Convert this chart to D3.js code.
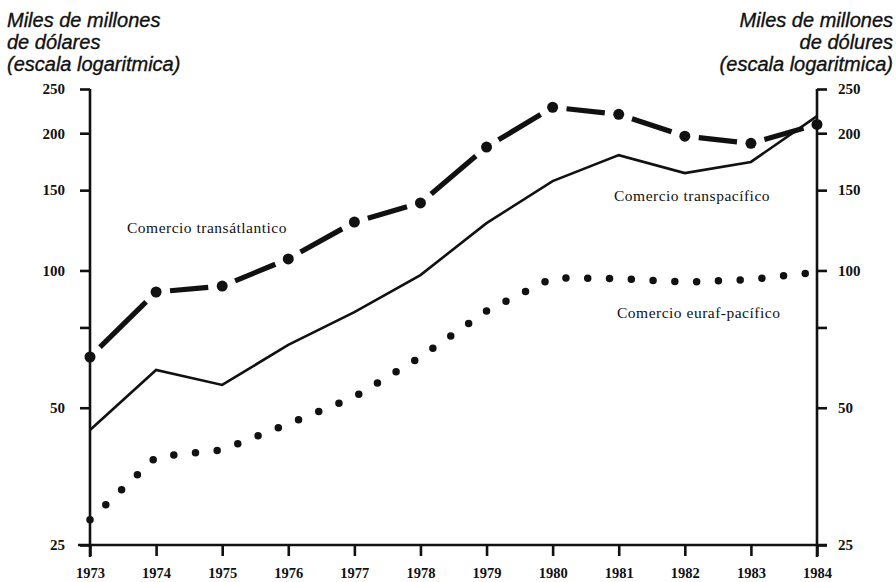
<!DOCTYPE html>
<html lang="es">
<head>
  <meta charset="UTF-8">
  <script src="https://d3js.org/d3.v7.min.js"></script>
  <title>Comercio</title>
  <style>
    body { margin: 0; padding: 0; background: #fff; }
    .axis text { font-family: "Liberation Serif", serif; font-weight: bold; font-size: 15px; fill: #111; }
    .axis line, .axis path { stroke: #111; stroke-width: 2.6; }
    .xax text { font-size: 14.5px; }
    .ttl { font-family: "Liberation Sans", sans-serif; font-style: italic; font-size: 20px; fill: #111; stroke: #111; stroke-width: 0.35; }
    .lbl { font-family: "Liberation Serif", serif; font-size: 15.5px; letter-spacing: 0.5px; fill: #111; }
  </style>
</head>
<body>
<div id="chart"></div>
<script>
  // datos (miles de millones de dolares)
  let years = [1973, 1974, 1975, 1976, 1977, 1978, 1979, 1980, 1981, 1982, 1983, 1984]
  let transatlantico = [64.6, 89.7, 92.4, 106, 127.7, 140.6, 186.5, 228, 220, 197, 190, 209]
  let transpacifico = [44.7, 60.5, 56.1, 68.7, 81, 97.7, 127, 157, 179, 163.5, 173, 218]
  let eurafPacifico = [28.4, 39.0, 40.4, 46.1, 52.8, 64.6, 81.5, 96.3, 96, 94.3, 95.5, 99.2]
  let yTicks = [25, 50, 75, 100, 150, 200, 250]
  let yLabeled = [25, 50, 100, 150, 200, 250]
  let titleLines = ["Miles de millones", "de dólares", "(escala logaritmica)"]
  let titleLinesR = ["Miles de millones", "de dólures", "(escala logaritmica)"]

  let width = 896, height = 582
  let svg = d3.select("#chart").append("svg")
    .attr("width", width).attr("height", height)
  svg.append("rect").attr("width", width).attr("height", height).attr("fill", "#fff")

  let x = d3.scaleLinear().domain([1973, 1984]).range([90, 817])
  let y = d3.scaleLog().domain([25, 250]).range([545, 89])

  let fmt = d => yLabeled.includes(d) ? d : ""

  // eje izquierdo
  let gl = svg.append("g").attr("class", "axis")
    .attr("transform", `translate(${x(1973)},0)`)
    .call(d3.axisLeft(y).tickValues(yTicks).tickFormat(fmt).tickSize(10).tickSizeOuter(0).tickPadding(15))
  gl.select(".domain").attr("d", `M0,${y(250)}V${y(25) + 12}`)

  // eje derecho
  let gr = svg.append("g").attr("class", "axis")
    .attr("transform", `translate(${x(1984)},0)`)
    .call(d3.axisRight(y).tickValues(yTicks).tickFormat(fmt).tickSize(10).tickSizeOuter(0).tickPadding(11))
  gr.select(".domain").attr("d", `M0,${y(250)}V${y(25) + 12}`)

  // eje inferior
  let gb = svg.append("g").attr("class", "axis xax")
    .attr("transform", `translate(0,${y(25)})`)
    .call(d3.axisBottom(x).tickValues(years).tickFormat(d3.format("d")).tickSize(11).tickSizeOuter(0).tickPadding(12))
  gb.select(".domain").attr("d", `M${x(1973) - 12},0H${x(1984) + 10}`)

  // comercio transpacifico: linea continua
  let line = d3.line().x((d, i) => x(years[i])).y(d => y(d))
  svg.append("path").datum(transpacifico)
    .attr("d", line).attr("fill", "none")
    .attr("stroke", "#111").attr("stroke-width", 2.6)

  // comercio euraf-pacifico: puntos
  svg.append("path").datum(eurafPacifico)
    .attr("d", line).attr("fill", "none")
    .attr("stroke", "#111").attr("stroke-width", 7.5)
    .attr("stroke-linecap", "round")
    .attr("stroke-dasharray", "0 21.8")

  // comercio transatlantico: raya y punto
  let pts = transatlantico.map((v, i) => [x(years[i]), y(v)])
  let gap = 14
  let segs = d3.pairs(pts).map(([a, b]) => {
    let dx = b[0] - a[0], dy = b[1] - a[1]
    let len = Math.sqrt(dx * dx + dy * dy)
    let ux = dx / len, uy = dy / len
    return [a[0] + ux * gap, a[1] + uy * gap, b[0] - ux * gap, b[1] - uy * gap]
  })
  svg.append("g").selectAll("line").data(segs).join("line")
    .attr("x1", d => d[0]).attr("y1", d => d[1])
    .attr("x2", d => d[2]).attr("y2", d => d[3])
    .attr("stroke", "#111").attr("stroke-width", 5.2)
  svg.append("g").selectAll("circle").data(pts).join("circle")
    .attr("cx", d => d[0]).attr("cy", d => d[1]).attr("r", 5.5)
    .attr("fill", "#111")

  // titulos de los ejes
  svg.append("text").attr("class", "ttl")
    .selectAll("tspan").data(titleLines).join("tspan")
    .attr("x", 7).attr("y", (d, i) => 27 + i * 22).text(d => d)
  svg.append("text").attr("class", "ttl").attr("text-anchor", "end")
    .selectAll("tspan").data(titleLinesR).join("tspan")
    .attr("x", 893).attr("y", (d, i) => 27 + i * 22).text(d => d)

  // rotulos de las series
  svg.append("text").attr("class", "lbl").attr("x", 127).attr("y", 233).text("Comercio transátlantico")
  svg.append("text").attr("class", "lbl").attr("x", 614).attr("y", 201).text("Comercio transpacífico")
  svg.append("text").attr("class", "lbl").attr("x", 617).attr("y", 318).text("Comercio euraf-pacífico")
</script>
</body>
</html>
